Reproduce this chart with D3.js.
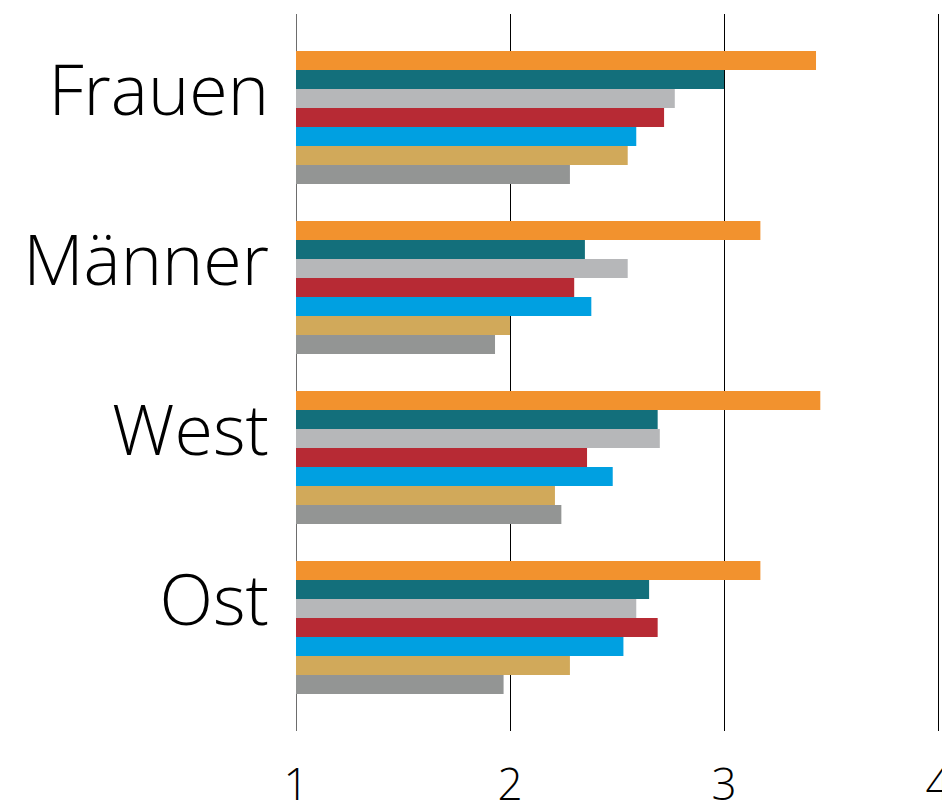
<!DOCTYPE html>
<html lang="de">
<head>
<meta charset="utf-8">
<title>Balken</title>
<script src="https://d3js.org/d3.v7.min.js"></script>
<style>
  body { margin: 0; background: #fff; }
  text { font-family: "Open Sans", "Noto Sans", sans-serif; font-weight: 300; fill: #000; }
</style>
</head>
<body>
<script>
// Kategorien und Werte (je Reihe ein Balken pro Kategorie)
var categories = ["Frauen", "Männer", "West", "Ost"];
var seriesNames = ["s1", "s2", "s3", "s4", "s5", "s6", "s7"];
var seriesColors = ["#F2922E", "#136F7B", "#B6B7B9", "#B72A34", "#00A0E1", "#D1A95A", "#939594"];
var values = [
  [3.43, 3.00, 2.77, 2.72, 2.59, 2.55, 2.28],  // Frauen
  [3.17, 2.35, 2.55, 2.30, 2.38, 2.00, 1.93],  // Männer
  [3.45, 2.69, 2.70, 2.36, 2.48, 2.21, 2.24],  // West
  [3.17, 2.65, 2.59, 2.69, 2.53, 2.28, 1.97]   // Ost
];
var xTicks = [1, 2, 3, 4];

var width = 942, height = 805;

var svg = d3.select("body").append("svg")
  .attr("width", width)
  .attr("height", height);

var x = d3.scaleLinear().domain([1, 4]).range([296, 938]);

var y = d3.scaleBand().domain(categories)
  .range([51, 694])
  .paddingInner(37 / 170)
  .paddingOuter(0);

var yInner = d3.scaleBand().domain(seriesNames)
  .range([0, y.bandwidth()])
  .padding(0);

// Gitterlinien
svg.append("g").selectAll("line")
  .data(xTicks)
  .join("line")
  .attr("x1", function(d){ return Math.round(x(d)) + 0.5; })
  .attr("x2", function(d){ return Math.round(x(d)) + 0.5; })
  .attr("y1", 13.5)
  .attr("y2", 731)
  .attr("stroke", function(d){ return d == 1 ? "#6d6d6d" : "#000"; })
  .attr("stroke-width", function(d){ return d == 1 ? 1.6 : 1; })
  .attr("shape-rendering", "crispEdges");

// Balken
var groups = svg.append("g").selectAll("g")
  .data(categories)
  .join("g")
  .attr("transform", function(d){ return "translate(0," + y(d) + ")"; });

groups.selectAll("rect")
  .data(function(d, i){
    return values[i].map(function(v, j){ return {key: seriesNames[j], value: v, color: seriesColors[j]}; });
  })
  .join("rect")
  .attr("x", x(1))
  .attr("y", function(d){ return yInner(d.key); })
  .attr("width", function(d){ return x(d.value) - x(1); })
  .attr("height", yInner.bandwidth())
  .attr("fill", function(d){ return d.color; });

// Kategorienbeschriftung
svg.append("g").selectAll("text")
  .data(categories)
  .join("text")
  .attr("x", 269)
  .attr("y", function(d){ return y(d) + 64; })
  .attr("text-anchor", "end")
  .attr("font-size", 70)
  .text(function(d){ return d; });

// Achsenbeschriftung
svg.append("g").selectAll("text")
  .data(xTicks)
  .join("text")
  .attr("x", function(d){ return x(d); })
  .attr("y", 800)
  .attr("text-anchor", "middle")
  .attr("font-size", 44)
  .text(function(d){ return d; });
</script>
</body>
</html>
